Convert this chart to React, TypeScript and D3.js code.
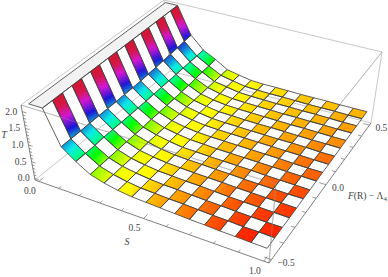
import React, { useEffect, useRef } from 'react';
import * as d3 from 'd3';

// T, one row per mesh line in s (s = i/16), one column per mesh line in F
const tRows: number[][] = [
  [3.2, 3.2, 3.2, 3.2, 3.2, 3.2, 3.2, 3.2, 3.2, 3.2, 3.2, 3.2, 3.2, 3.2, 3.2, 3.2, 3.2],
  [2.2, 2.2, 2.2, 2.2, 2.2, 2.2, 2.2, 2.2, 2.2, 2.2, 2.2, 2.2, 2.2, 2.2, 2.2, 2.2, 2.2],
  [1.17, 1.17, 1.17, 1.18, 1.18, 1.18, 1.18, 1.19, 1.19, 1.2, 1.22, 1.24, 1.26, 1.28, 1.3, 1.33, 1.35],
  [0.86, 0.86, 0.86, 0.88, 0.88, 0.88, 0.88, 0.89, 0.89, 0.9, 0.91, 0.92, 0.93, 0.94, 0.95, 0.96, 0.97],
  [0.61, 0.61, 0.62, 0.62, 0.63, 0.63, 0.63, 0.65, 0.65, 0.66, 0.67, 0.68, 0.69, 0.71, 0.73, 0.74, 0.77],
  [0.49, 0.49, 0.49, 0.49, 0.49, 0.51, 0.51, 0.51, 0.51, 0.51, 0.52, 0.52, 0.52, 0.53, 0.53, 0.54, 0.54],
  [0.41, 0.41, 0.42, 0.42, 0.42, 0.42, 0.43, 0.43, 0.43, 0.43, 0.44, 0.44, 0.44, 0.44, 0.46, 0.46, 0.46],
  [0.36, 0.36, 0.37, 0.37, 0.37, 0.37, 0.37, 0.38, 0.38, 0.38, 0.38, 0.38, 0.39, 0.39, 0.39, 0.39, 0.39],
  [0.34, 0.34, 0.34, 0.35, 0.35, 0.35, 0.36, 0.36, 0.36, 0.36, 0.36, 0.37, 0.37, 0.37, 0.37, 0.37, 0.37],
  [0.32, 0.32, 0.33, 0.33, 0.33, 0.34, 0.34, 0.34, 0.35, 0.35, 0.35, 0.35, 0.36, 0.36, 0.36, 0.36, 0.37],
  [0.3, 0.31, 0.31, 0.32, 0.32, 0.32, 0.33, 0.33, 0.34, 0.34, 0.34, 0.34, 0.35, 0.35, 0.35, 0.36, 0.36],
  [0.28, 0.29, 0.29, 0.3, 0.31, 0.31, 0.32, 0.32, 0.33, 0.33, 0.33, 0.34, 0.34, 0.34, 0.35, 0.35, 0.35],
  [0.27, 0.27, 0.28, 0.28, 0.29, 0.29, 0.31, 0.31, 0.32, 0.32, 0.32, 0.33, 0.33, 0.34, 0.34, 0.34, 0.35],
  [0.25, 0.26, 0.26, 0.27, 0.28, 0.28, 0.29, 0.3, 0.31, 0.31, 0.32, 0.32, 0.33, 0.33, 0.34, 0.34, 0.35],
  [0.24, 0.24, 0.25, 0.26, 0.27, 0.27, 0.28, 0.29, 0.29, 0.3, 0.31, 0.31, 0.32, 0.33, 0.33, 0.34, 0.34],
  [0.23, 0.24, 0.24, 0.25, 0.26, 0.26, 0.27, 0.28, 0.28, 0.29, 0.29, 0.31, 0.31, 0.32, 0.32, 0.33, 0.34],
  [0.22, 0.23, 0.24, 0.24, 0.25, 0.26, 0.26, 0.27, 0.28, 0.28, 0.29, 0.3, 0.31, 0.32, 0.32, 0.33, 0.34],
];

const sLabels = [0, 0.5, 1];
const fLabels = [-0.5, 0, 0.5];
const tLabels = [0, 0.5, 1, 1.5, 2];
const sTicks = [0, 0.1, 0.2, 0.3, 0.4, 0.5, 0.6, 0.7, 0.8, 0.9, 1];
const fTicks = [-0.5, -0.4, -0.3, -0.2, -0.1, 0, 0.1, 0.2, 0.3, 0.4, 0.5];
const tTicks = [0, 0.1, 0.2, 0.3, 0.4, 0.5, 0.6, 0.7, 0.8, 0.9, 1, 1.1, 1.2, 1.3, 1.4, 1.5, 1.6, 1.7, 1.8, 1.9, 2];

type Pt = [number, number];

// maps the unit square onto a quad in screen space
const quadMap = (p00: Pt, p10: Pt, p11: Pt, p01: Pt) => {
  const [x0, y0] = p00, [x1, y1] = p10, [x2, y2] = p11, [x3, y3] = p01;
  const dx1 = x1 - x2, dx2 = x3 - x2, sx = x0 - x1 + x2 - x3;
  const dy1 = y1 - y2, dy2 = y3 - y2, sy = y0 - y1 + y2 - y3;
  const den = dx1 * dy2 - dx2 * dy1;
  const g = (sx * dy2 - dx2 * sy) / den;
  const h = (dx1 * sy - sx * dy1) / den;
  const a = x1 - x0 + g * x1, b = x3 - x0 + h * x3;
  const d = y1 - y0 + g * y1, e = y3 - y0 + h * y3;
  return (u: number, v: number): Pt => {
    const w = g * u + h * v + 1;
    return [(a * u + b * v + x0) / w, (d * u + e * v + y0) / w];
  };
};

const floorMap = quadMap([35, 180], [269, 263], [371, 123], [170, 71]);
const roofMap = quadMap([21, 105], [276, 184], [382, 52], [164, 0]);

const sScale = d3.scaleLinear().domain([-0.02, 1.02]).range([0, 1]);
const fScale = d3.scaleLinear().domain([-0.52, 0.52]).range([0, 1]);
const tScale = d3.scaleLinear().domain([-0.05, 2.2]).range([0, 1]);

// height to colour, with the lighting on the steep part
const hueScale = d3.scaleLinear()
  .domain([0.21, 0.38, 0.48, 0.62, 0.9, 1.17, 1.5, 1.95, 2.2])
  .range([0, 58, 64, 88, 152, 200, 265, 345, 352])
  .clamp(true);
const satScale = d3.scaleLinear().domain([0.9, 1.2, 2.2]).range([1, 0.82, 0.8]).clamp(true);
const lightScale = d3.scaleLinear().domain([0.9, 1.2, 2.2]).range([0.5, 0.46, 0.46]).clamp(true);
const colorOf = (t: number) => d3.hsl(hueScale(t), satScale(t), lightScale(t)).formatHex();

const tClip = 2.2;

const project = (s: number, f: number, t: number): Pt => {
  const u = sScale(s), v = fScale(f), z = tScale(t);
  const a = floorMap(u, v), b = roofMap(u, v);
  return [a[0] + (b[0] - a[0]) * z, a[1] + (b[1] - a[1]) * z];
};

const App = () => {
  const svgRef = useRef<SVGSVGElement>(null);

  useEffect(() => {
    const svg = d3.select(svgRef.current);
    svg.selectAll('*').remove();
    const defs = svg.append('defs');

    const nS = tRows.length - 1;
    const nF = tRows[0].length - 1;
    const sAt = (i: number) => i / nS;
    const fAt = (j: number) => -0.5 + j / nF;
    const node = (i: number, j: number) => project(sAt(i), fAt(j), Math.min(tRows[i][j], tClip));
    const path = d3.line<Pt>();

    const edge = (a: Pt, b: Pt, color: string, width = 0.8, opacity = 1) =>
      svg.append('line')
        .attr('x1', a[0]).attr('y1', a[1])
        .attr('x2', b[0]).attr('y2', b[1])
        .attr('stroke', color)
        .attr('stroke-width', width)
        .attr('opacity', opacity);

    const [s0, s1] = sScale.domain();
    const [f0, f1] = fScale.domain();
    const [t0, t1] = tScale.domain();
    const light = '#b9b9b9';

    // back of the box
    edge(project(s0, f0, t1), project(s0, f1, t1), light);
    edge(project(s0, f1, t1), project(s1, f1, t1), light);
    edge(project(s0, f0, t0), project(s0, f1, t0), light);
    edge(project(s0, f1, t0), project(s1, f1, t0), light);
    edge(project(s0, f1, t0), project(s0, f1, t1), light);
    edge(project(s1, f1, t0), project(s1, f1, t1), light);
    edge(project(s0, f0, t1), project(s1, f0, t1), light);
    edge(project(s1, f0, t1), project(s1, f1, t1), light);
    edge(project(s1, f0, t0), project(s1, f0, t1), light);

    // surface, back to front
    const meshColor = '#3c3c3c';
    for (let i = 0; i < nS; i++) {
      for (let j = nF - 1; j >= 0; j--) {
        const quad = [node(i, j), node(i + 1, j), node(i + 1, j + 1), node(i, j + 1)];
        const capped = tRows[i + 1][j] >= tClip;
        if (capped) {
          svg.append('path')
            .attr('d', path(quad) + 'Z')
            .attr('fill', '#f2f2f2')
            .attr('stroke', '#f2f2f2')
            .attr('stroke-width', 0.4);
          continue;
        }
        const filled = (i + j) % 2 === 0;
        if (filled) {
          const id = `cell-${i}-${j}`;
          const from = d3.interpolateArray(quad[0], quad[3])(0.5);
          const to = d3.interpolateArray(quad[1], quad[2])(0.5);
          const tFrom = Math.min((tRows[i][j] + tRows[i][j + 1]) / 2, tClip);
          const tTo = (tRows[i + 1][j] + tRows[i + 1][j + 1]) / 2;
          const grad = defs.append('linearGradient')
            .attr('id', id)
            .attr('gradientUnits', 'userSpaceOnUse')
            .attr('x1', from[0]).attr('y1', from[1])
            .attr('x2', to[0]).attr('y2', to[1]);
          d3.range(0, 1.01, 0.1).forEach(k => {
            grad.append('stop')
              .attr('offset', k)
              .attr('stop-color', colorOf(tFrom + (tTo - tFrom) * k));
          });
          svg.append('path').attr('d', path(quad) + 'Z').attr('fill', `url(#${id})`);
        }
        svg.append('path')
          .attr('d', path(quad) + 'Z')
          .attr('fill', 'none')
          .attr('stroke', meshColor)
          .attr('stroke-width', 0.8);
      }
    }

    // outline of the clipped cap
    const capLine = (i: number) => d3.range(0, nF + 1).map(j => node(i, j));
    [0, 1].forEach(i => {
      svg.append('path')
        .attr('d', path(capLine(i)))
        .attr('fill', 'none').attr('stroke', meshColor).attr('stroke-width', 0.8);
    });
    edge(node(0, 0), node(1, 0), meshColor);
    edge(node(0, nF), node(1, nF), meshColor);

    // front box edges show faintly over the surface
    edge(project(s0, f0, t1), project(s1, f0, t1), '#999', 0.8, 0.45);
    edge(project(s1, f0, t1), project(s1, f1, t1), '#999', 0.8, 0.45);
    edge(project(s1, f0, t0), project(s1, f0, t1), '#999', 0.8, 0.6);

    // axes
    const axisColor = '#707070';
    edge(project(s0, f0, t0), project(s1, f0, t0), axisColor, 0.9);
    edge(project(s1, f0, t0), project(s1, f1, t0), axisColor, 0.9);
    edge(project(s0, f0, t0), project(s0, f0, t1), axisColor, 0.9);

    sTicks.forEach(v => {
      const len = sLabels.includes(v) ? 0.028 : 0.016;
      edge(project(v, f0, t0), project(v, f0 + len, t0), axisColor, 0.7);
    });
    fTicks.forEach(v => {
      const len = fLabels.includes(v) ? 0.028 : 0.016;
      edge(project(s1, v, t0), project(s1 - len, v, t0), axisColor, 0.7);
    });
    tTicks.forEach(v => {
      const len = tLabels.includes(v) ? 0.02 : 0.012;
      edge(project(s0, f0, v), project(s0 + len, f0, v), axisColor, 0.7);
    });

    const label = (x: number, y: number, text: string, anchor = 'middle') =>
      svg.append('text')
        .attr('x', x).attr('y', y)
        .attr('text-anchor', anchor)
        .attr('font-family', '"Liberation Serif", serif')
        .attr('font-size', 9.5)
        .attr('fill', '#444')
        .text(text);

    const fmt = (v: number) => v.toFixed(1).replace('-', '\u2212');
    sLabels.forEach(v => {
      const p = project(v, f0, t0);
      label(p[0] - 9, p[1] + 13, fmt(v));
    });
    fLabels.forEach(v => {
      const p = project(s1, v, t0);
      label(p[0] + 6, p[1] + 6, fmt(v), 'start');
    });
    tLabels.forEach(v => {
      const p = project(s0, f0, v);
      label(p[0] - 5, p[1] + 3, fmt(v), 'end');
    });

    label(127, 245, 'S').attr('font-style', 'italic').attr('font-size', 10);
    label(4, 138, 'T').attr('font-style', 'italic').attr('font-size', 10);
    const fTitle = label(348, 199, '', 'start');
    fTitle.append('tspan').attr('font-style', 'italic').text('F');
    fTitle.append('tspan').text('(R) \u2212 \u039B');
    fTitle.append('tspan').attr('font-size', 7).attr('dy', 2).text('4');
  }, []);

  return (
    <svg
      ref={svgRef}
      width="388"
      height="277"
      style={{ position: 'absolute', left: 0, top: 0, background: '#fff' }}
    />
  );
};

export default App;
